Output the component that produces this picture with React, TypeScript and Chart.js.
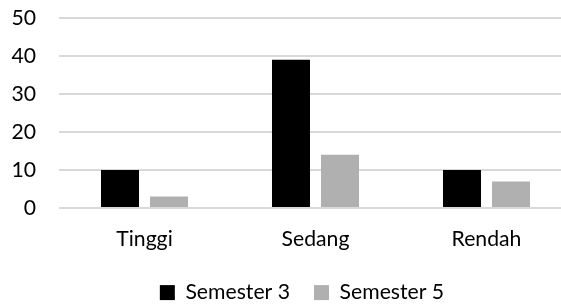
import React, { useEffect, useRef } from "react";
import { Chart, registerables } from "chart.js";

Chart.register(...registerables);

const categories = ["Tinggi", "Sedang", "Rendah"];
const semester3 = [10, 39, 10];
const semester5 = [3, 14, 7];
const seriesLabels = ["Semester 3", "Semester 5"];

const FONT = "Lato";
const TEXT = "#000000";
const FS = 21.2;

const shiftLegend = {
  id: "shiftLegend",
  afterLayout(chart: any) {
    const l = chart.legend;
    if (!l) return;
    l.left += 16;
    l.right += 16;
  },
};

export default function App() {
  const ref = useRef<HTMLCanvasElement | null>(null);

  useEffect(() => {
    if (!ref.current) return;
    const chart = new Chart(ref.current, {
      type: "bar",
      data: {
        labels: categories,
        datasets: [
          {
            label: seriesLabels[0],
            data: semester3,
            backgroundColor: "#000000",
            categoryPercentage: 0.573,
            barPercentage: 0.776,
          },
          {
            label: seriesLabels[1],
            data: semester5,
            backgroundColor: "#b0b0b0",
            categoryPercentage: 0.573,
            barPercentage: 0.776,
          },
        ],
      },
      options: {
        responsive: false,
        animation: false,
        devicePixelRatio: 1,
        layout: { padding: { left: 0, top: 18, right: 0, bottom: 0 } },
        plugins: {
          tooltip: { enabled: false },
          legend: {
            position: "bottom",
            maxHeight: 46,
            labels: {
              boxWidth: 15,
              boxHeight: 15,
              padding: 24,
              color: TEXT,
              font: { family: FONT, size: FS },
            },
          },
        },
        scales: {
          x: {
            grid: { display: false, drawTicks: false },
            border: { display: false },
            ticks: { color: TEXT, padding: 18.5, font: { family: FONT, size: FS } },
            afterFit: (s: any) => {
              s.height = 50;
            },
          },
          y: {
            min: 0,
            max: 50,
            grid: { color: "#d9d9d9", lineWidth: 2, drawTicks: false },
            border: { display: false },
            ticks: {
              stepSize: 10,
              padding: 23,
              color: TEXT,
              font: { family: FONT, size: FS },
            },
            afterFit: (s: any) => {
              s.width = 59;
              s.paddingTop = 0;
              s.paddingBottom = 0;
            },
          },
        },
      },
      plugins: [shiftLegend],
    });
    return () => chart.destroy();
  }, []);

  return (
    <div
      style={{
        position: "absolute",
        left: 0,
        top: 0,
        width: 561,
        height: 304,
        overflow: "hidden",
        background: "#fff",
      }}
    >
      <canvas ref={ref} width={572} height={304} style={{ width: 572, height: 304 }} />
    </div>
  );
}
